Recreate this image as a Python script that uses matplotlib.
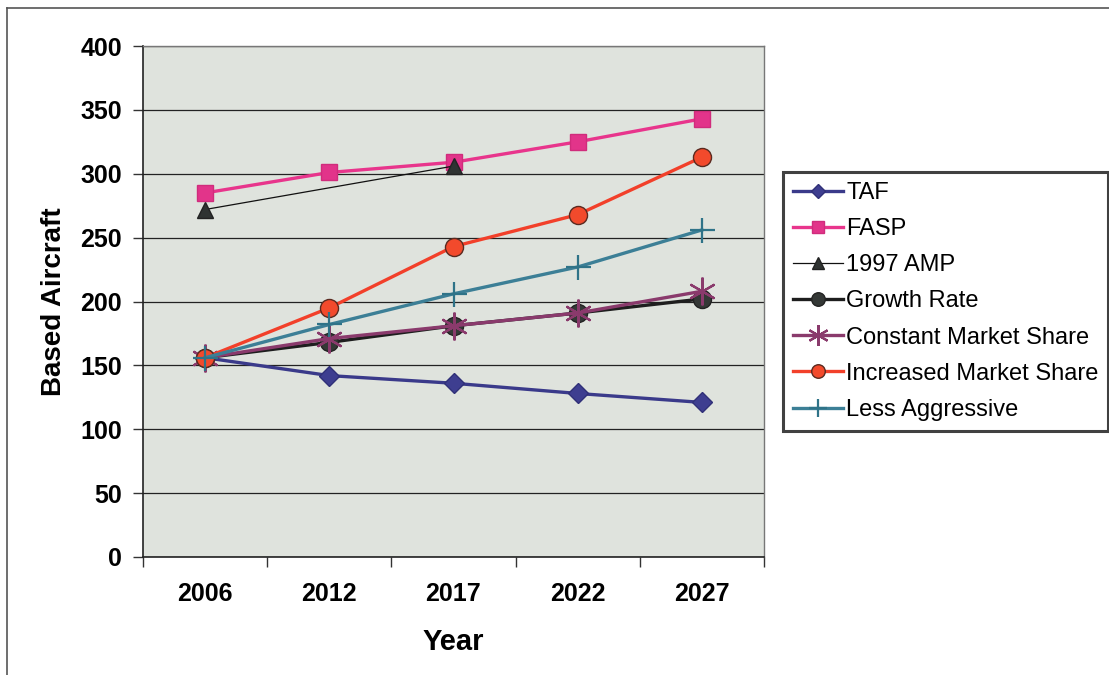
import matplotlib
matplotlib.use("Agg")
import matplotlib.pyplot as plt
from matplotlib.lines import Line2D

# Forecast years (categories) and based-aircraft projections per scenario
years = ["2006", "2012", "2017", "2022", "2027"]
taf = [156, 142, 136, 128, 121]
fasp = [285, 301, 309, 325, 343]
amp_1997 = [272, None, 306, None, None]
growth_rate = [156, 168, 181, 191, 202]
constant_share = [156, 171, 181, 191, 208]
increased_share = [156, 195, 243, 268, 313]
less_aggressive = [156, 182, 206, 227, 256]

FONT = "Liberation Sans"

fig = plt.figure(figsize=(11.09, 6.75), dpi=100)
fig.patch.set_facecolor("white")

# page frame lines (top and left)
fig.add_artist(Line2D([7 / 1109, 1.0], [1 - 8 / 675, 1 - 8 / 675],
                      transform=fig.transFigure, color="#555555", lw=1.2))
fig.add_artist(Line2D([7 / 1109, 7 / 1109], [0.0, 1 - 8 / 675],
                      transform=fig.transFigure, color="#555555", lw=1.2))

ax = fig.add_axes([143 / 1109, 118 / 675, (764 - 143) / 1109, (557 - 46) / 675])
ax.set_facecolor("#dfe3dd")

x = list(range(len(years)))


def pts(vals):
    xs = [i for i, v in zip(x, vals) if v is not None]
    ys = [v for v in vals if v is not None]
    return xs, ys


ax.plot(*pts(taf), color="#3a3a8a", lw=2.4, marker="D", markersize=10,
        markerfacecolor="#3e3e90", markeredgecolor="#303078", label="TAF", zorder=3)
ax.plot(*pts(fasp), color="#e8358c", lw=2.4, marker="s", markersize=12,
        markerfacecolor="#e2348a", markeredgecolor="#d02c7c", label="FASP", zorder=3)
ax.plot(*pts(amp_1997), color="#111111", lw=0.9, marker="^", markersize=12,
        markerfacecolor="#2f3332", markeredgecolor="#222222", label="1997 AMP", zorder=4)
ax.plot(*pts(growth_rate), color="#1e1e1e", lw=2.4, marker="o", markersize=13,
        markerfacecolor="#343836", markeredgecolor="#222222", label="Growth Rate", zorder=4)
ax.plot(*pts(constant_share), color="#8a3a6c", lw=2.4, marker=(6, 2, 0), markersize=20,
        markeredgecolor="#8a3a6c", markeredgewidth=1.6, label="Constant Market Share", zorder=5)
ax.plot(*pts(increased_share), color="#f2402a", lw=2.4, marker="o", markersize=13,
        markerfacecolor="#f24a2c", markeredgecolor="#5a2a20", markeredgewidth=1.0,
        label="Increased Market Share", zorder=6)
ax.plot(*pts(less_aggressive), color="#3c7f96", lw=2.4, marker="+", markersize=18,
        markeredgecolor="#2f7388", markeredgewidth=1.6, label="Less Aggressive", zorder=7)

ax.set_xlim(-0.5, len(years) - 0.5)
ax.set_ylim(0, 400)
ax.set_yticks(range(0, 401, 50))
ax.yaxis.grid(True, color="#222222", lw=0.9)
ax.set_axisbelow(True)

# category ticks sit between categories, labels sit at centers
ax.set_xticks([i - 0.5 for i in range(len(years) + 1)])
ax.set_xticklabels([])
ax.set_xticks(x, minor=True)
ax.set_xticklabels(years, minor=True, fontfamily=FONT, fontweight="bold", fontsize=18)
ax.tick_params(axis="x", which="minor", length=0, pad=18)
ax.tick_params(axis="x", which="major", length=7, width=1, color="#333333", direction="out")
ax.tick_params(axis="y", length=7, width=1, color="#333333", direction="out", pad=8)
for lbl in ax.get_yticklabels():
    lbl.set_fontfamily(FONT)
    lbl.set_fontweight("bold")
    lbl.set_fontsize(18)

for side in ["left", "bottom"]:
    ax.spines[side].set_color("#222222")
    ax.spines[side].set_linewidth(1.2)
for side in ["top", "right"]:
    ax.spines[side].set_color("#777777")
    ax.spines[side].set_linewidth(1.0)

ax.set_xlabel("Year", fontfamily=FONT, fontweight="bold", fontsize=21, labelpad=16)
ax.set_ylabel("Based Aircraft", fontfamily=FONT, fontweight="bold", fontsize=20, labelpad=10)

leg = ax.legend(loc="upper left", bbox_to_anchor=(783 / 1109, 1 - 172 / 675),
                bbox_transform=fig.transFigure, frameon=True, fancybox=False,
                prop={"family": FONT, "size": 17}, handlelength=2.1,
                handletextpad=0.15, labelspacing=0.6, borderpad=0.42,
                borderaxespad=0.0, markerscale=0.75)
leg.get_frame().set_edgecolor("#111111")
leg.get_frame().set_linewidth(2.2)

fig.savefig("out.png", dpi=100, facecolor="white")
